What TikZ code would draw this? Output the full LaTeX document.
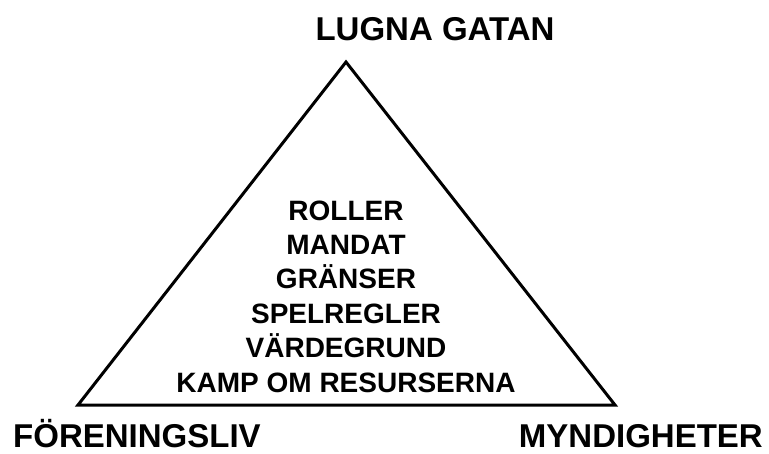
\documentclass[tikz,border=0pt]{standalone}
\usepackage{fontspec}
\setmainfont{Liberation Sans}
\begin{document}
\begin{tikzpicture}[x=1pt,y=-1pt,
  corner/.style={font=\bfseries\fontsize{33}{40}\selectfont, inner sep=0pt, text depth=0pt, anchor=base},
  item/.style={font=\bfseries\fontsize{28}{34}\selectfont, inner sep=0pt, anchor=base},
  edge/.style={line width=3pt, line join=miter}]
\useasboundingbox (0,0) rectangle (769,453);
\coordinate (top) at (346,62);
\coordinate (bl) at (78,405);
\coordinate (br) at (615,405);
\draw[edge] (top) -- (bl) -- (br) -- cycle;
\node[corner] (lg) at (435,40) {LUGNA GATAN};
\node[corner, anchor=base west] (fl) at (13,447) {FÖRENINGSLIV};
\node[corner, anchor=base east] (my) at (763,447) {MYNDIGHETER};
\node[item] (r1) at (346,220) {ROLLER};
\node[item] (r2) at (346,254.4) {MANDAT};
\node[item] (r3) at (346,288.8) {GRÄNSER};
\node[item] (r4) at (346,323.2) {SPELREGLER};
\node[item] (r5) at (346,357.6) {VÄRDEGRUND};
\node[item] (r6) at (346,392) {KAMP OM RESURSERNA};
\end{tikzpicture}
\end{document}
